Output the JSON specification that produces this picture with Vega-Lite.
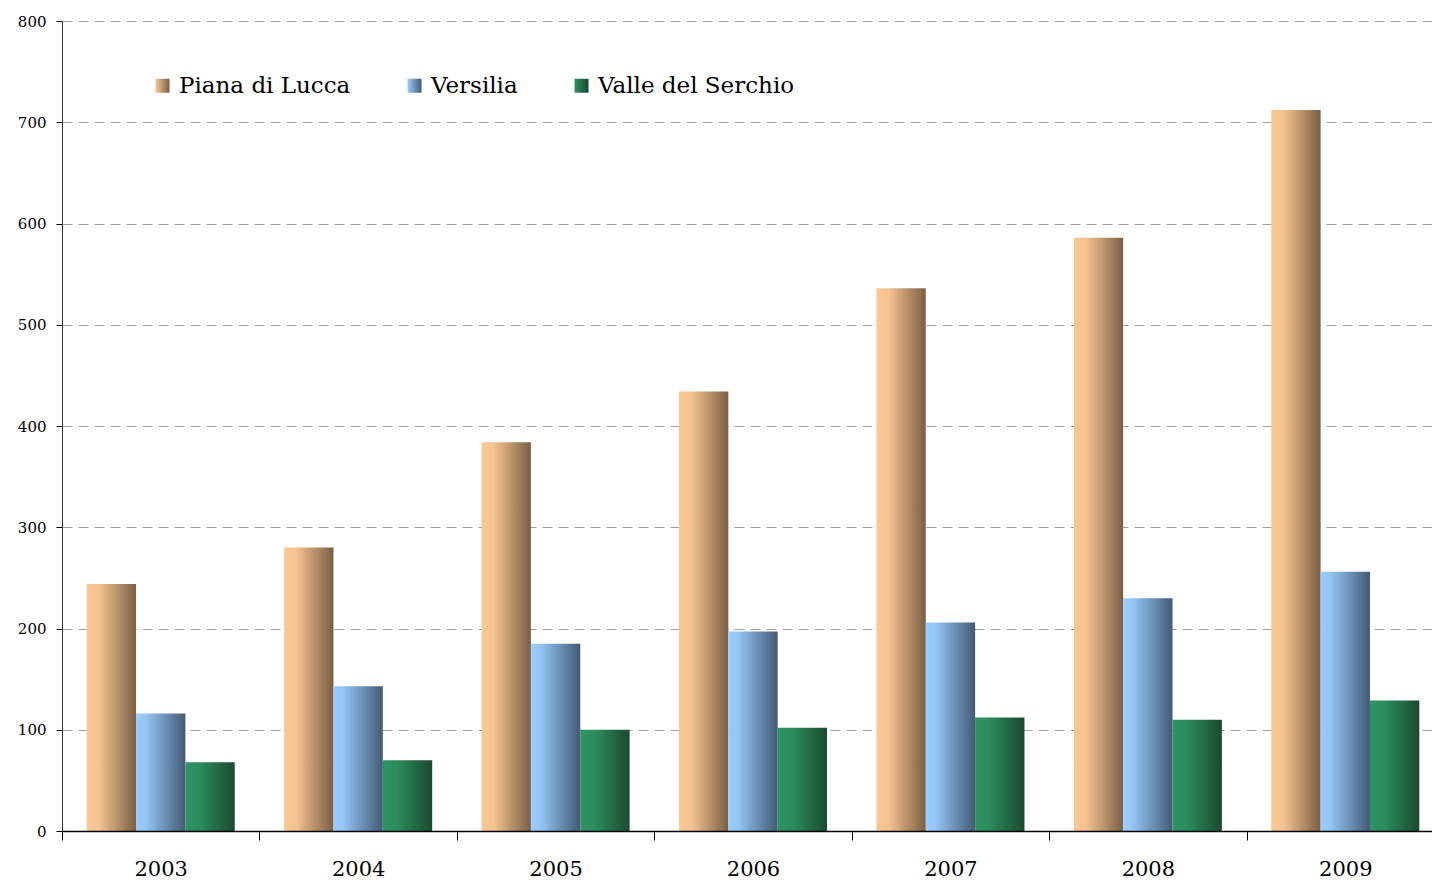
{
  "$schema": "https://vega.github.io/schema/vega-lite/v6.json",
  "width": 1382,
  "height": 810,
  "autosize": {"type": "none"},
  "padding": {"left": 62, "top": 21, "right": 0, "bottom": 50},
  "background": "white",
  "config": {
    "view": {"stroke": null},
    "font": "DejaVu Serif"
  },
  "data": {
    "values": [
      {"year": "2003", "area": "Piana di Lucca", "value": 244},
      {"year": "2003", "area": "Versilia", "value": 116},
      {"year": "2003", "area": "Valle del Serchio", "value": 68},
      {"year": "2004", "area": "Piana di Lucca", "value": 280},
      {"year": "2004", "area": "Versilia", "value": 143},
      {"year": "2004", "area": "Valle del Serchio", "value": 70},
      {"year": "2005", "area": "Piana di Lucca", "value": 384},
      {"year": "2005", "area": "Versilia", "value": 185},
      {"year": "2005", "area": "Valle del Serchio", "value": 100},
      {"year": "2006", "area": "Piana di Lucca", "value": 434},
      {"year": "2006", "area": "Versilia", "value": 197},
      {"year": "2006", "area": "Valle del Serchio", "value": 102},
      {"year": "2007", "area": "Piana di Lucca", "value": 536},
      {"year": "2007", "area": "Versilia", "value": 206},
      {"year": "2007", "area": "Valle del Serchio", "value": 112},
      {"year": "2008", "area": "Piana di Lucca", "value": 586},
      {"year": "2008", "area": "Versilia", "value": 230},
      {"year": "2008", "area": "Valle del Serchio", "value": 110},
      {"year": "2009", "area": "Piana di Lucca", "value": 712},
      {"year": "2009", "area": "Versilia", "value": 256},
      {"year": "2009", "area": "Valle del Serchio", "value": 129}
    ]
  },
  "encoding": {
    "x": {
      "field": "year",
      "type": "ordinal",
      "title": null,
      "scale": {"paddingInner": 0, "paddingOuter": 0},
      "axis": {
        "labelAngle": 0,
        "labelFontSize": 21,
        "labelColor": "#000000",
        "labelPadding": 18,
        "tickBand": "extent",
        "tickSize": 9,
        "tickColor": "#000000",
        "domainColor": "#000000",
        "domainWidth": 1.5,
        "tickWidth": 1,
        "zindex": 2
      }
    },
    "xOffset": {
      "field": "area",
      "type": "nominal",
      "sort": ["Piana di Lucca", "Versilia", "Valle del Serchio"],
      "scale": {"paddingInner": 0, "paddingOuter": 0.5}
    },
    "y": {
      "field": "value",
      "type": "quantitative",
      "title": null,
      "scale": {"domain": [0, 800], "nice": false},
      "axis": {
        "values": [0, 100, 200, 300, 400, 500, 600, 700, 800],
        "labelFontSize": 15,
        "labelColor": "#000000",
        "labelPadding": 10,
        "tickSize": 6,
        "tickColor": "#000000",
        "domainColor": "#333333",
        "grid": true,
        "gridColor": "#A0A0A0",
        "gridDash": [10, 6],
        "gridWidth": 1
      }
    }
  },
  "layer": [
    {
      "mark": {"type": "bar", "opacity": 0, "strokeWidth": 0},
      "encoding": {
        "stroke": {
          "field": "area",
          "type": "nominal",
          "sort": ["Piana di Lucca", "Versilia", "Valle del Serchio"],
          "scale": {
            "domain": ["Piana di Lucca", "Versilia", "Valle del Serchio"],
            "range": ["#C9A070", "#7AA5D5", "#26784F"]
          },
          "legend": {
            "title": null,
            "orient": "none",
            "direction": "horizontal",
            "legendX": 89,
            "legendY": 53,
            "padding": 0,
            "symbolType": "square",
            "symbolSize": 196,
            "symbolStrokeWidth": 0,
            "symbolOpacity": 1,
            "labelFontSize": 23,
            "labelColor": "#000000",
            "labelOffset": 5,
            "columnPadding": 52,
            "labelLimit": 400,
            "encoding": {
              "symbols": {
                "fill": {"value": {"expr": "datum.value === 'Piana di Lucca' ? {gradient: 'linear', x1: 0, y1: 0, x2: 1, y2: 0, stops: [{offset: 0, color: '#F9C894'}, {offset: 1, color: '#7A5F45'}]} : datum.value === 'Versilia' ? {gradient: 'linear', x1: 0, y1: 0, x2: 1, y2: 0, stops: [{offset: 0, color: '#99CCFF'}, {offset: 1, color: '#445A75'}]} : {gradient: 'linear', x1: 0, y1: 0, x2: 1, y2: 0, stops: [{offset: 0, color: '#2E9463'}, {offset: 1, color: '#1A4A30'}]}"}}
              }
            }
          }
        }
      }
    },
    {
      "mark": {"type": "bar"},
      "encoding": {
        "color": {
          "condition": [
            {
              "test": "datum.area === 'Piana di Lucca'",
              "value": {"gradient": "linear", "x1": 0, "y1": 0, "x2": 1, "y2": 0, "stops": [{"offset": 0, "color": "#F9C894"}, {"offset": 0.25, "color": "#F5C290"}, {"offset": 1, "color": "#7A5F45"}]}
            },
            {
              "test": "datum.area === 'Versilia'",
              "value": {"gradient": "linear", "x1": 0, "y1": 0, "x2": 1, "y2": 0, "stops": [{"offset": 0, "color": "#99CCFF"}, {"offset": 0.2, "color": "#93C5F5"}, {"offset": 1, "color": "#445A75"}]}
            }
          ],
          "value": {"gradient": "linear", "x1": 0, "y1": 0, "x2": 1, "y2": 0, "stops": [{"offset": 0, "color": "#2E9463"}, {"offset": 0.3, "color": "#2B8B5C"}, {"offset": 1, "color": "#1A4A30"}]}
        }
      }
    }
  ]
}
